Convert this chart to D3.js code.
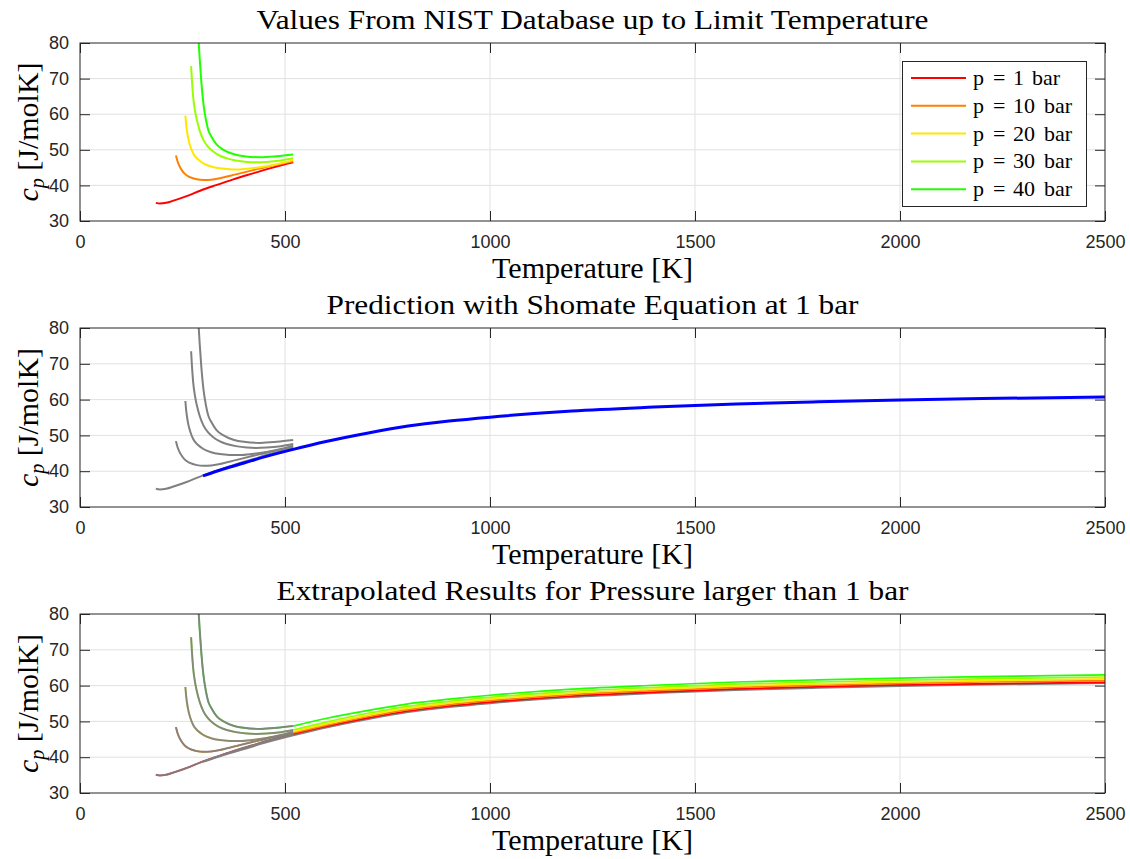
<!DOCTYPE html>
<html><head><meta charset="utf-8">
<script src="https://cdn.jsdelivr.net/npm/d3@7"></script>
<style>body{margin:0;background:#fff}svg{display:block}</style></head>
<body><svg id="c" width="1130" height="859"></svg>
<script>
// ---------- data ----------
const seriesNames = ["1","10","20","30","40"];   // pressure in bar
const seriesColors = ["#ff0000","#ff8000","#ffe600","#99ff00","#22ff00"];
const titles = ["Values From NIST Database up to Limit Temperature",
                "Prediction with Shomate Equation at 1 bar",
                "Extrapolated Results for Pressure larger than 1 bar"];
const xTicks = [0,500,1000,1500,2000,2500];
const yTicks = [30,40,50,60,70,80];

// NIST values
const T_p1  = [185,195,210,230,260,293,330,374,420,470,520];
const cp_p1 = [35.1,34.9,35.1,35.8,37.0,38.5,40.0,41.7,43.3,45.0,46.5];
const T_p10  = [234,238,245,255,268,285,301,320,341,380,423,470,520];
const cp_p10 = [48.4,46.7,44.9,43.3,42.3,41.7,41.5,41.6,42.0,43.1,44.3,45.6,46.8];
const T_p20  = [257,259,263,269,276,288,301,320,341,365,390,420,455,490,520];
const cp_p20 = [59.6,57.0,53.8,51.0,49.0,47.3,46.2,45.3,44.8,44.55,44.5,44.8,45.4,46.2,47.1];
const T_p30  = [271,273,276,280,285,292,301,312,325,340,358,380,407,430,455,490,520];
const cp_p30 = [73.5,69.5,64.9,61.3,58.4,55.4,52.8,50.9,49.5,48.4,47.6,47.0,46.6,46.5,46.6,47.0,47.6];
const T_p40  = [288,292,296,301,307,313,320,333,350,374,400,440,480,520];
const cp_p40 = [83,75.5,69,63,58.5,55.5,53.8,51.5,50.0,48.8,48.2,47.9,48.2,48.7];

// Shomate prediction at 1 bar
const T_sh  = [300,350,400,450,520,600,700,800,900,1000,1200,1400,1600,1800,2000,2200,2500];
const cp_sh = [38.7,40.6,42.3,44.0,46.1,48.3,50.6,52.6,54.0,55.1,56.8,57.9,58.8,59.4,59.9,60.3,60.7];

// Extrapolated results
const T_ex = [520,600,700,800,900,1000,1200,1400,1600,1800,2000,2200,2500];
const ex_p1  = [46.5,48.6,50.9,52.9,54.3,55.4,57.1,58.2,59.1,59.7,60.2,60.5,60.9];
const ex_p10 = [46.8,48.9,51.3,53.3,54.7,55.8,57.5,58.6,59.5,60.1,60.6,61.0,61.4];
const ex_p20 = [47.1,49.3,51.7,53.7,55.1,56.2,57.9,59.0,59.9,60.5,61.0,61.4,61.9];
const ex_p30 = [47.6,49.8,52.2,54.2,55.6,56.7,58.4,59.5,60.4,61.0,61.5,61.9,62.4];
const ex_p40 = [48.7,50.8,53.0,54.9,56.2,57.3,59.0,60.1,61.0,61.6,62.1,62.5,63.0];

// ---------- build ----------
const zip = (xs, ys) => xs.map((x,i)=>({x, y: ys[i]}));
const nist = [zip(T_p1,cp_p1), zip(T_p10,cp_p10), zip(T_p20,cp_p20), zip(T_p30,cp_p30), zip(T_p40,cp_p40)];
const shomate = zip(T_sh, cp_sh);
const extrap = [ex_p1,ex_p10,ex_p20,ex_p30,ex_p40].map(v=>zip(T_ex,v));

const svg = d3.select("#c");
const X0 = 80, X1 = 1105;
const panels = [{top:43,bottom:221},{top:328,bottom:507},{top:614,bottom:793}];
const titleLen = [672, 532, 632];
const x = d3.scaleLinear().domain([0,2500]).range([X0,X1]);
const AX = "#262626", GRID = "#e1e1e1", GRAY = "#808080";
const tickFont = "'Liberation Sans', Arial, sans-serif";
const serif = "'Liberation Serif', 'Times New Roman', serif";

panels.forEach((p, idx) => {
  const y = d3.scaleLinear().domain([30,80]).range([p.bottom, p.top]);
  const g = svg.append("g");
  const clipId = "clip"+idx;
  svg.append("clipPath").attr("id",clipId).append("rect")
    .attr("x",X0).attr("y",p.top).attr("width",X1-X0).attr("height",p.bottom-p.top);

  // grid
  g.append("g").selectAll("line").data(xTicks.slice(1,-1)).join("line")
    .attr("x1",d=>x(d)).attr("x2",d=>x(d)).attr("y1",p.top).attr("y2",p.bottom)
    .attr("stroke",GRID).attr("stroke-width",1);
  g.append("g").selectAll("line").data(yTicks.slice(1,-1)).join("line")
    .attr("y1",d=>y(d)).attr("y2",d=>y(d)).attr("x1",X0).attr("x2",X1)
    .attr("stroke",GRID).attr("stroke-width",1);

  const line = d3.line().x(d=>x(d.x)).y(d=>y(d.y)).curve(d3.curveMonotoneX);
  const plot = g.append("g").attr("clip-path",`url(#${clipId})`);

  if (idx === 0) {
    nist.forEach((s,i)=> plot.append("path").datum(s).attr("d",line)
      .attr("fill","none").attr("stroke",seriesColors[i]).attr("stroke-width",2));
  } else if (idx === 1) {
    nist.forEach((s,i)=> plot.append("path").datum(s).attr("d",line)
      .attr("fill","none").attr("stroke",GRAY).attr("stroke-width",2));
    plot.append("path").datum(shomate).attr("d",line)
      .attr("fill","none").attr("stroke","#0000ff").attr("stroke-width",3);
  } else {
    nist.forEach((s,i)=> plot.append("path").datum(s).attr("d",line)
      .attr("fill","none").attr("stroke",seriesColors[i]).attr("stroke-width",1.6));
    nist.forEach((s,i)=> plot.append("path").datum(s).attr("d",line)
      .attr("fill","none").attr("stroke",GRAY).attr("stroke-opacity",0.9).attr("stroke-width",2));
    plot.append("path").datum(shomate).attr("d",line)
      .attr("fill","none").attr("stroke",GRAY).attr("stroke-width",2);
    extrap.forEach((s,i)=> plot.append("path").datum(s).attr("d",line)
      .attr("fill","none").attr("stroke",seriesColors[i]).attr("stroke-width",1.7));
  }

  // box
  g.append("rect").attr("x",X0).attr("y",p.top).attr("width",X1-X0).attr("height",p.bottom-p.top)
    .attr("fill","none").attr("stroke",AX).attr("stroke-width",1);

  // axes
  const xb = g.append("g").attr("transform",`translate(0,${p.bottom})`)
    .call(d3.axisBottom(x).tickValues(xTicks).tickSize(-10).tickPadding(14).tickFormat(d3.format("d")));
  const xt = g.append("g").attr("transform",`translate(0,${p.top})`)
    .call(d3.axisTop(x).tickValues(xTicks).tickSize(-10).tickFormat(""));
  const yl = g.append("g").attr("transform",`translate(${X0},0)`)
    .call(d3.axisLeft(y).tickValues(yTicks).tickSize(-10).tickPadding(11));
  const yr = g.append("g").attr("transform",`translate(${X1},0)`)
    .call(d3.axisRight(y).tickValues(yTicks).tickSize(-10).tickFormat(""));
  [xb,xt,yl,yr].forEach(a=>{
    a.select(".domain").remove();
    a.selectAll(".tick line").attr("stroke",AX).attr("stroke-width",1);
    a.selectAll(".tick text").attr("fill",AX).attr("font-family",tickFont).attr("font-size",18);
  });
  xb.selectAll(".tick text").attr("dy","0.71em");

  // title
  svg.append("text").attr("x",(X0+X1)/2).attr("y",p.top-14).attr("text-anchor","middle")
    .attr("font-family",serif).attr("font-size",27).attr("fill","#000")
    .attr("textLength",titleLen[idx]).attr("lengthAdjust","spacingAndGlyphs").text(titles[idx]);
  // x label
  svg.append("text").attr("x",(X0+X1)/2).attr("y",p.bottom+57).attr("text-anchor","middle")
    .attr("font-family",serif).attr("font-size",29).attr("fill","#000")
    .attr("textLength",201).attr("lengthAdjust","spacingAndGlyphs").text("Temperature [K]");
  // y label
  const yc = (p.top+p.bottom)/2;
  const yt = svg.append("text").attr("transform",`translate(38,${yc}) rotate(-90)`)
    .attr("text-anchor","middle").attr("font-family",serif).attr("font-size",30).attr("fill","#000");
  yt.append("tspan").attr("font-style","italic").text("c");
  yt.append("tspan").attr("font-style","italic").attr("font-size",20).attr("dy",6).text("p");
  yt.append("tspan").attr("dy",-6).text(" [J/molK]");
});

// legend in first panel
const lg = svg.append("g");
lg.append("rect").attr("x",902.5).attr("y",61.5).attr("width",184).attr("height",145)
  .attr("fill","#fff").attr("stroke",AX).attr("stroke-width",1);
seriesNames.forEach((n,i)=>{
  const yy = 78 + i*27.8;
  lg.append("line").attr("x1",911).attr("x2",966).attr("y1",yy).attr("y2",yy)
    .attr("stroke",seriesColors[i]).attr("stroke-width",2);
  const t = lg.append("text").attr("y",yy+7).attr("font-family",serif).attr("font-size",22).attr("fill","#000");
  t.append("tspan").attr("x",973).text("p");
  t.append("tspan").attr("x",993).text("=");
  t.append("tspan").attr("x",1013).text(n);
  t.append("tspan").attr("x", n.length > 1 ? 1044 : 1032).text("bar");
});
</script></body></html>
